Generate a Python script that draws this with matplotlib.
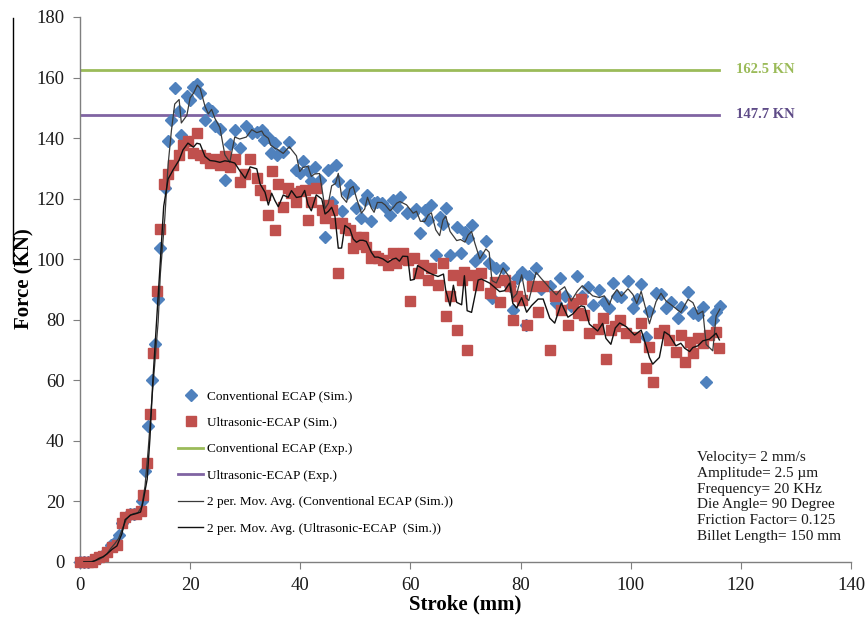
import numpy as np
import matplotlib
matplotlib.use("Agg")
import matplotlib.pyplot as plt
from matplotlib.lines import Line2D

plt.rcParams['font.family'] = ['Liberation Serif', 'DejaVu Serif']

# ---------------- data ----------------
conv_x = [0, 0.7, 1.4, 2.1, 2.8, 3.5, 4.2, 4.9, 5.6, 6.3, 7.0, 7.7, 8.4, 9.1, 9.8, 10.5, 11.2, 11.8,
          12.4, 13.0, 13.6, 14.2, 14.6, 15.4, 16.0, 16.6, 17.2, 18.0, 18.4, 19.4, 20.0, 20.6, 21.3,
          21.8, 22.7, 23.3, 23.9, 24.5, 25.4, 26.3, 27.2, 28.1, 29.0, 30.2, 31.2, 32.1, 33.0, 33.4,
          34.2, 34.6, 35.4, 35.8, 36.9, 38.0, 39.3, 39.9, 40.5, 41.4, 42.0, 42.6, 43.5, 44.5, 45.1,
          45.7, 46.4, 46.9, 47.5, 48.4, 49.0, 49.6, 50.2, 51.1, 51.7, 52.2, 52.9, 53.4, 54.0, 54.8,
          55.4, 56.3, 56.9, 57.5, 58.1, 59.3, 60.5, 61.1, 61.8, 62.6, 63.2, 63.8, 64.6, 65.3, 65.9,
          66.4, 67.2, 68.4, 69.1, 69.9, 70.5, 71.1, 71.7, 72.6, 73.7, 74.3, 74.8, 75.6, 76.8, 78.0,
          78.6, 79.3, 80.2, 81.0, 81.5, 82.8, 83.8, 85.3, 86.5, 87.1, 88.0, 89.2, 90.3, 91.2, 92.2,
          93.1, 94.3, 95.2, 96.1, 96.7, 97.5, 98.3, 99.5, 100.4, 101.1, 101.9, 102.8, 103.4, 104.6,
          105.5, 106.4, 107.3, 108.5, 109.1, 110.4, 111.3, 112.2, 113.1, 113.7, 114.9, 115.5, 116.2]
conv_y = [0, 0, 0, 0.3, 0.6, 1.2, 2, 3.5, 5.5, 6.5, 9, 13, 15, 16, 16, 16.5, 20, 30,
          45, 60, 72, 87, 103.7, 123.5, 139, 146, 156.5, 149, 141, 154, 152.6, 157, 158,
          155, 146, 150, 149, 144, 143, 126, 138, 142.7, 136.7, 144, 141.6, 142, 142.7, 139.4,
          140.5, 135, 138.3, 134.4, 135.5, 138.8, 129.5, 128.4, 132.3, 129, 125.7, 130.6, 126, 107.5, 129.5,
          119, 131, 125.7, 115.8, 121.8, 124.6, 123.5, 116.9, 113.6, 119.6, 121.3, 112.5, 118.5, 119, 118.5,
          117.4, 114.6, 119.6, 117.4, 120.7, 115.2, 115.2, 116.5, 108.6, 116.3, 112.8, 117.9, 101.5, 114.1, 111.7,
          116.8, 101.5, 110.8, 102.2, 109.1, 107, 111.3, 99.3, 100.9, 105.9, 98.7, 87.2, 97.1, 97.1, 91,
          83.3, 93.8, 95.9, 78.4, 94.3, 97.1, 90, 91, 85.5, 93.8, 88, 84.4, 94.5, 88, 90.9,
          84.9, 89.8, 86, 83.8, 92, 88, 87.6, 92.9, 83.8, 87, 91.8, 74.4, 83, 89,
          88.5, 84, 86, 80.5, 84.3, 89.2, 82.1, 81.6, 84.1, 59.6, 79.9, 82.6, 84.5]

ultra_x = [0, 0.7, 1.4, 2.1, 2.8, 3.5, 4.2, 4.9, 5.8, 6.7, 7.6, 8.2, 9.2, 10.2, 11.0, 11.4, 12.2,
           12.7, 13.2, 13.9, 14.6, 15.2, 16.0, 16.9, 18.0, 18.7, 19.6, 20.6, 21.2, 21.8, 22.7, 23.6,
           24.5, 25.4, 26.3, 27.2, 28.1, 29.0, 30.0, 30.9, 32.1, 32.7, 33.6, 34.2, 34.8, 35.4, 36.0,
           36.9, 37.8, 38.4, 39.3, 40.2, 40.8, 41.4, 42.0, 42.9, 43.9, 44.5, 45.1, 45.7, 46.3, 46.9,
           47.5, 48.1, 49.0, 49.6, 50.2, 50.8, 51.4, 52.0, 52.9, 53.5, 54.1, 55.0, 55.9, 56.8, 57.4,
           58.0, 58.6, 59.5, 60.0, 60.7, 61.3, 62.3, 63.2, 63.8, 65.0, 66.0, 66.4, 67.2, 67.8, 68.4,
           69.3, 69.8, 70.3, 71.1, 72.3, 72.9, 74.4, 75.3, 76.2, 77.1, 78.0, 78.6, 79.3, 80.2, 81.1,
           82.0, 83.2, 84.1, 85.3, 86.2, 87.4, 88.6, 89.5, 90.4, 91.0, 91.6, 92.5, 94.0, 94.9, 95.5,
           96.4, 97.2, 98.0, 99.2, 100.7, 101.9, 102.8, 103.4, 104.0, 105.2, 106.1, 107.0, 108.2, 109.1,
           109.8, 110.7, 111.3, 112.2, 113.1, 114.3, 115.5, 116.1]
ultra_y = [0, 0, 0, 0, 1, 1.5, 2, 3.3, 5, 5.6, 13, 15, 16, 16, 17, 22, 32.7,
           49, 69, 89.5, 110, 125, 128, 131, 134.5, 137.7, 139, 135, 141.6, 134.5, 133.4, 131.8,
           133, 131, 134, 130.5, 133, 125.5, 128, 133, 126.7, 123, 121.2, 114.6, 129, 109.7, 125,
           117.4, 123.5, 121.8, 119, 122.4, 123, 113, 119, 123.5, 116.3, 113.6, 118, 116.3, 111.9, 95.4,
           112, 110.3, 109.7, 103.7, 107.5, 105, 107.5, 104.2, 100.4, 101, 100.4, 99.8, 98.1, 102, 98.7,
           100, 102, 99.8, 86.3, 100.4, 95.4, 98.2, 93.2, 97.1, 91.5, 98.7, 81.1, 88, 94.8, 76.7,
           93.2, 95.9, 70.1, 94.8, 91.5, 95.4, 88.8, 92.6, 86, 93.2, 91, 79.8, 88, 86.6, 78.4,
           91, 82.7, 91, 70.1, 87.7, 83.3, 78.4, 85.5, 82.2, 87, 81.6, 75.5, 77.1, 80.5, 67.2,
           76.6, 78, 79.9, 75.5, 74.4, 78.8, 64, 71.1, 59.6, 75.5, 76.6, 73.3, 69.5, 75,
           66.2, 72.8, 68.9, 73.9, 72.2, 75, 76.1, 70.6]

conv_exp = 162.5
ultra_exp = 147.7
exp_x = [0, 116]

params = ["Velocity= 2 mm/s", "Amplitude= 2.5 \u00b5m", "Frequency= 20 KHz",
          "Die Angle= 90 Degree", "Friction Factor= 0.125", "Billet Length= 150 mm"]

x_ticks = [0, 20, 40, 60, 80, 100, 120, 140]
y_ticks = [0, 20, 40, 60, 80, 100, 120, 140, 160, 180]


def mov_avg2(x, y):
    x = np.asarray(x, float)
    y = np.asarray(y, float)
    return x[1:], (y[1:] + y[:-1]) / 2.0


# ---------------- figure ----------------
fig = plt.figure(figsize=(8.68, 6.23), dpi=100)
ax = fig.add_axes([80 / 868, 1 - 562 / 623, (851 - 80) / 868, (562 - 17) / 623])

blue = '#4F81BD'
red = '#C0504D'
green = '#9BBB59'
purple = '#8064A2'

h1, = ax.plot(conv_x, conv_y, linestyle='none', marker='D', ms=6, color=blue,
              mec=blue, zorder=3, clip_on=False, label='Conventional ECAP (Sim.)')
h2, = ax.plot(ultra_x, ultra_y, linestyle='none', marker='s', ms=7, color=red,
              mec=red, zorder=3, clip_on=False, label='Ultrasonic-ECAP (Sim.)')
h3, = ax.plot(exp_x, [conv_exp, conv_exp], color=green, lw=2, zorder=2,
              label='Conventional ECAP (Exp.)')
h4, = ax.plot(exp_x, [ultra_exp, ultra_exp], color=purple, lw=2, zorder=2,
              label='Ultrasonic-ECAP (Exp.)')
mx, my = mov_avg2(conv_x, conv_y)
h5, = ax.plot(mx, my, color='#3a3a3a', lw=0.9, zorder=4,
              label='2 per. Mov. Avg. (Conventional ECAP (Sim.))')
mx2, my2 = mov_avg2(ultra_x, ultra_y)
h6, = ax.plot(mx2, my2, color='#111111', lw=1.0, zorder=4,
              label='2 per. Mov. Avg. (Ultrasonic-ECAP  (Sim.))')

ax.set_xlim(0, 140)
ax.set_ylim(0, 180)
ax.set_xticks(x_ticks)
ax.set_yticks(y_ticks)
for s in ['top', 'right']:
    ax.spines[s].set_visible(False)
for s in ['left', 'bottom']:
    ax.spines[s].set_color('#7f7f7f')
    ax.spines[s].set_linewidth(1.0)
ax.tick_params(axis='both', direction='out', length=5, color='#7f7f7f',
               labelsize=13.5, labelcolor='#1a1a1a')
ax.tick_params(axis='x', pad=6)
ax.tick_params(axis='y', pad=6)

ax.set_xlabel('Stroke (mm)', fontsize=15, fontweight='bold')
ax.set_ylabel('Force (KN)', fontsize=15, fontweight='bold')
ax.xaxis.set_label_coords(0.5, (562 - 594) / 545)
ax.yaxis.set_label_coords((34 - 80) / 771, 0.52)

# value labels for experimental lines
ax.text(119.2, conv_exp, '162.5 KN', color=green, fontsize=10.5, fontweight='bold',
        va='center', ha='left')
ax.text(119.2, ultra_exp, '147.7 KN', color='#5E4B87', fontsize=10.5, fontweight='bold',
        va='center', ha='left')

# parameter box
fig.text(697 / 868, 1 - 451 / 623, "\n".join(params), fontsize=11, color='#1a1a1a',
         va='top', ha='left', linespacing=1.28)

leg = ax.legend(handles=[h1, h2, h3, h4, h5, h6], loc='upper left',
                bbox_to_anchor=(178 / 868, 1 - 390 / 623), bbox_transform=fig.transFigure,
                frameon=False, fontsize=9.5, labelspacing=1.08, handlelength=1.9,
                handletextpad=0.3, borderpad=0, borderaxespad=0)

# stray vertical rule at far left of the image
fig.add_artist(Line2D([12.5 / 868, 12.5 / 868], [1 - 18 / 623, 1 - 263 / 623],
                      color='black', lw=1.0, transform=fig.transFigure))

fig.savefig('out.png', dpi=100)
